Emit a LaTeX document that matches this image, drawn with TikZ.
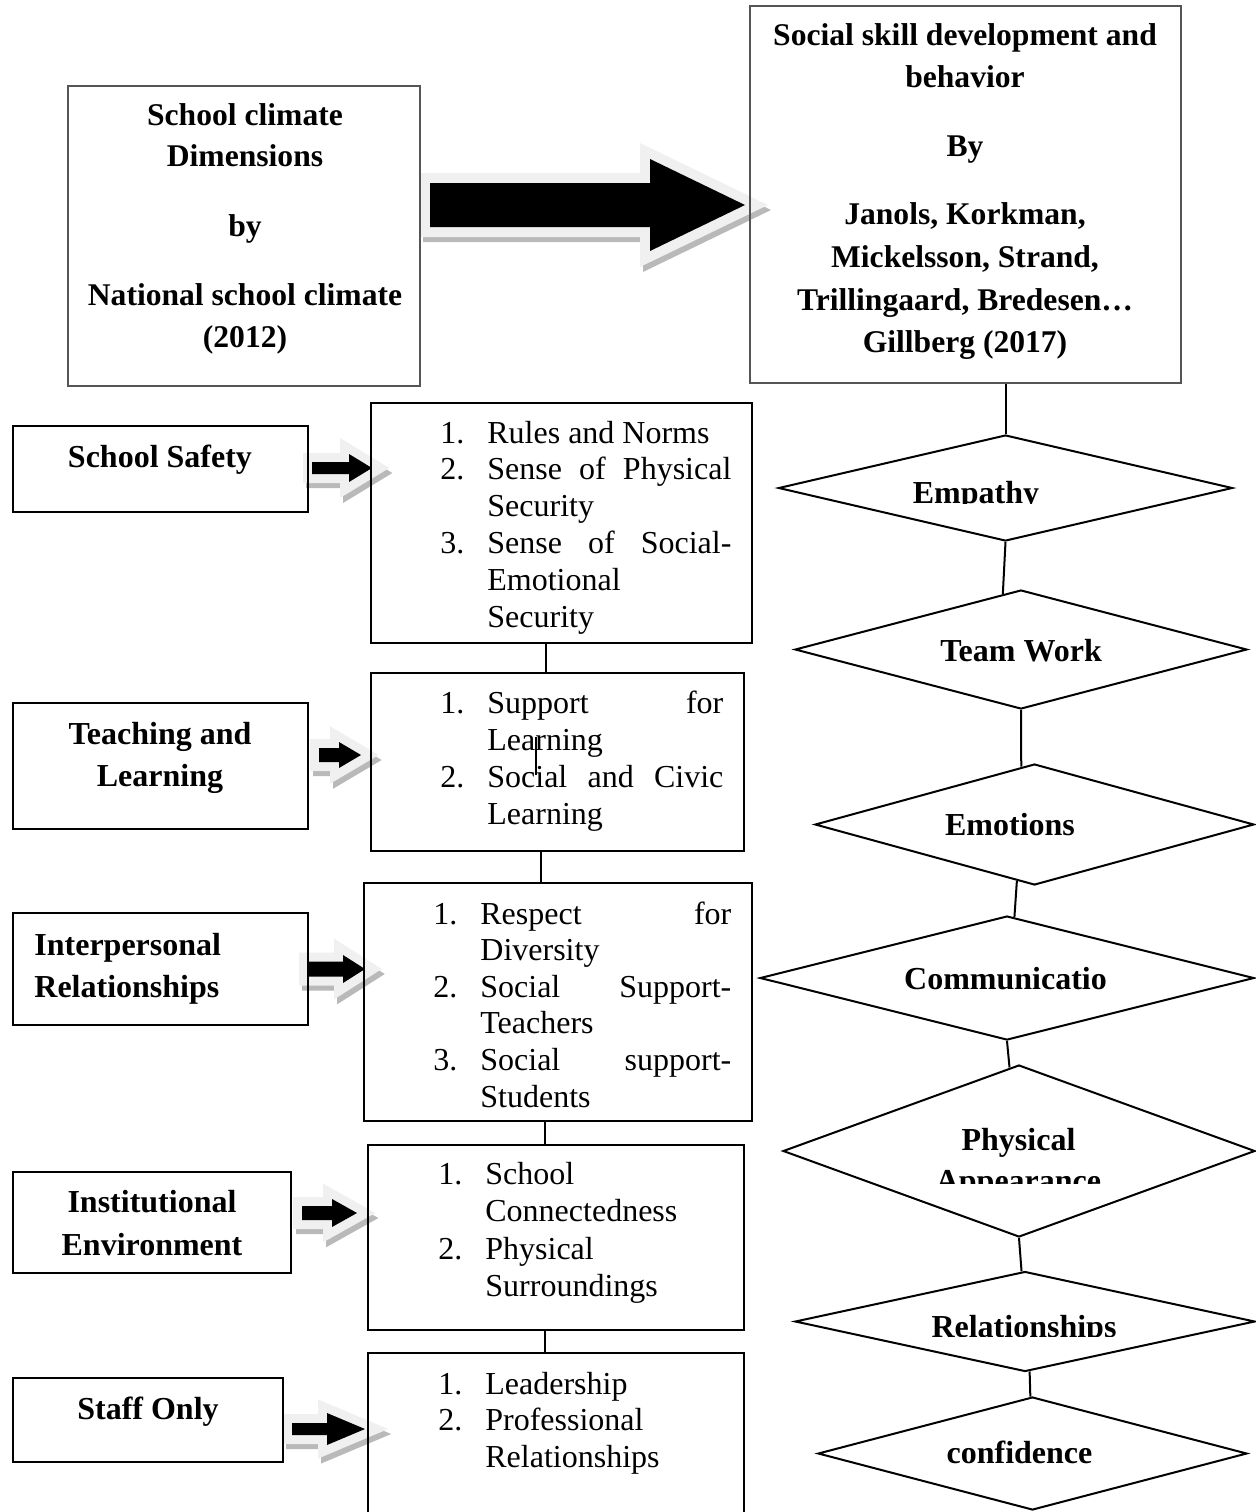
\documentclass[tikz,border=0pt]{standalone}
\usepackage{fontspec}
\setmainfont{Liberation Serif}
\usetikzlibrary{shapes.geometric,calc,fit}

\definecolor{outlinegray}{RGB}{240,240,240}
\definecolor{shadowgray}{RGB}{185,185,185}
\definecolor{framegray}{RGB}{85,85,85}

% one centred line of zero width
\newcommand{\cl}[1]{\hbox to 0pt{\hss#1\hss}}
% stacked lines with a fixed baseline distance
\newcommand{\lineset}[2]{\vtop{\baselineskip=#1\relax\lineskip=0pt\relax\lineskiplimit=-\maxdimen\relax#2}}
% numbered list line: number column, then the item text
\newcommand{\itm}[2]{\hbox{\hbox to 23.5pt{#1\hss}#2}}
% justified line of a given width
\newcommand{\spread}[2]{\hbox to #1{#2}}

% block arrow: x0, y0 (left end, centre line), shaft length, shaft half height,
% head length, head half height, outline width
\newcommand{\blockarrow}[7]{%
  \begin{scope}[shift={(#1,#2)}, line join=miter]
    \begin{scope}[shift={(3,5)}]
      \filldraw[shadowgray, line width=#7] (0,-#4) -- (#3,-#4) -- (#3,-#6) -- ({#3+#5},0) -- (#3,#6) -- (#3,#4) -- (0,#4) -- cycle;
    \end{scope}
    \filldraw[outlinegray, line width=#7] (0,-#4) -- (#3,-#4) -- (#3,-#6) -- ({#3+#5},0) -- (#3,#6) -- (#3,#4) -- (0,#4) -- cycle;
    \fill[black] (0,-#4) -- (#3,-#4) -- (#3,-#6) -- ({#3+#5},0) -- (#3,#6) -- (#3,#4) -- (0,#4) -- cycle;
  \end{scope}}

\begin{document}
\begin{tikzpicture}[x=0.5pt,y=-0.5pt,
  box/.style={draw=black, line width=1pt, inner sep=0pt},
  headbox/.style={draw=framegray, line width=1.3pt, inner sep=0pt},
  rhomb/.style={diamond, draw=black, line width=1pt, inner sep=0pt},
  link/.style={black, line width=1pt},
  plain/.style={inner sep=0pt, anchor=base, font=\fontsize{16}{18}\selectfont},
  heavy/.style={inner sep=0pt, anchor=base, font=\fontsize{16}{18}\selectfont\bfseries},
  title/.style={inner sep=0pt, anchor=base, font=\fontsize{15.8}{18}\selectfont\bfseries}]

\useasboundingbox[fill=white] (0,0) rectangle (1256,1512);

% ---- block arrows ----
\blockarrow{430}{205}{220}{22}{95}{46}{10pt}
\blockarrow{312}{468}{37}{6}{23}{14}{9pt}
\blockarrow{319}{755}{20}{7}{22}{13}{9pt}
\blockarrow{308}{969}{35}{7.5}{22}{14}{9pt}
\blockarrow{302}{1213}{30}{7}{25}{14}{9pt}
\blockarrow{292}{1429}{35}{6}{38}{16}{9pt}

% ---- heading boxes ----
\node[headbox, fit={(68,86) (420,386)}] (t1) {};
\node[headbox, fit={(750,6) (1181,383)}] (t2) {};
\node[title] (t1t) at (245,125) {\lineset{20.75pt}{\cl{School climate}\cl{Dimensions}\vskip14pt\cl{by}\vskip14pt\cl{National school climate}\cl{(2012)}}};
\node[title] (t2t) at (965,45) {\lineset{21.3pt}{\cl{Social skill development and}\cl{behavior}\vskip13pt\cl{By}\vskip13pt\cl{Janols, Korkman,}\cl{Mickelsson, Strand,}\cl{Trillingaard, Bredesen…}\cl{Gillberg (2017)}}};

% ---- dimension boxes ----
\node[box, fit={(13,426) (308,512)}] (b1) {};
\node[box, fit={(13,703) (308,829)}] (b2) {};
\node[box, fit={(13,913) (308,1025)}] (b3) {};
\node[box, fit={(13,1172) (291,1273)}] (b4) {};
\node[box, fit={(13,1378) (283,1462)}] (b5) {};
\node[heavy] (b1t) at (160,467) {School Safety};
\node[heavy] (b2t) at (160,744) {\lineset{21pt}{\cl{Teaching and}\cl{Learning}}};
\node[heavy, anchor=base west] (b3t) at (34,955) {\lineset{21pt}{\hbox{Interpersonal}\hbox{Relationships}}};
\node[heavy] (b4t) at (152,1212) {\lineset{21.5pt}{\cl{Institutional}\cl{Environment}}};
\node[heavy] (b5t) at (148,1419) {Staff Only};

% ---- item boxes ----
\node[box, fit={(371,403) (752,643)}] (m1) {};
\node[box, fit={(371,673) (744,851)}] (m2) {};
\node[box, fit={(364,883) (752,1121)}] (m3) {};
\node[box, fit={(368,1145) (744,1330)}] (m4) {};
\node[box, fit={(368,1353) (744,1516)}] (m5) {};

\node[plain, anchor=base west] (m1t) at (440,443) {\lineset{18.4pt}{%
  \itm{1.}{Rules and Norms}
  \itm{2.}{\spread{122pt}{Sense\hfill of\hfill Physical}}
  \itm{}{Security}
  \itm{3.}{\spread{122pt}{Sense\hfill of\hfill Social-}}
  \itm{}{Emotional}
  \itm{}{Security}}};
\node[plain, anchor=base west] (m2t) at (440,713) {\lineset{18.5pt}{%
  \itm{1.}{\spread{118pt}{Support\hfill for}}
  \itm{}{Learning}
  \itm{2.}{\spread{118pt}{Social\hfill and\hfill Civic}}
  \itm{}{Learning}}};
\node[plain, anchor=base west] (m3t) at (433,924) {\lineset{18.3pt}{%
  \itm{1.}{\spread{125.5pt}{Respect\hfill for}}
  \itm{}{Diversity}
  \itm{2.}{\spread{125.5pt}{Social\hfill Support-}}
  \itm{}{Teachers}
  \itm{3.}{\spread{125.5pt}{Social\hfill support-}}
  \itm{}{Students}}};
\node[plain, anchor=base west] (m4t) at (438,1184) {\lineset{18.83pt}{%
  \itm{1.}{School}
  \itm{}{Connectedness}
  \itm{2.}{Physical}
  \itm{}{Surroundings}}};
\node[plain, anchor=base west] (m5t) at (438,1394) {\lineset{18.25pt}{%
  \itm{1.}{Leadership}
  \itm{2.}{Professional}
  \itm{}{Relationships}}};

% stray vertical stroke inside the second item box
\draw[link] (536,737) -- (536,775);

% links between item boxes
\draw[link] (m1.south -| 546,0) -- (m2.north -| 546,0);
\draw[link] (m2.south -| 541,0) -- (m3.north -| 541,0);
\draw[link] (m3.south -| 545,0) -- (m4.north -| 545,0);
\draw[link] (m4.south -| 545,0) -- (m5.north -| 545,0);

% ---- skill diamonds ----
\node[rhomb, minimum width=227pt, minimum height=53pt] (d1) at (1005.5,488) {};
\node[rhomb, minimum width=226pt, minimum height=59.5pt] (d2) at (1021,649.5) {};
\node[rhomb, minimum width=219.5pt, minimum height=60.5pt] (d3) at (1034.5,824.5) {};
\node[rhomb, minimum width=247pt, minimum height=62pt] (d4) at (1007,978) {};
\node[rhomb, minimum width=236pt, minimum height=86pt] (d5) at (1019,1151) {};
\node[rhomb, minimum width=230pt, minimum height=50pt] (d6) at (1025,1321.5) {};
\node[rhomb, minimum width=214.5pt, minimum height=56.5pt] (d7) at (1032.5,1453.5) {};

\begin{scope}
  \clip (760,420) rectangle (1256,503.5);
  \node[heavy] (l1) at (976,503) {Empathy};
\end{scope}
\node[heavy] (l2) at (1021,661) {Team Work};
\node[heavy] (l3) at (1010,835) {Emotions};
\node[heavy] (l4) at (1005.5,989) {Communicatio};
\begin{scope}
  \clip (760,1070) rectangle (1256,1183);
  \node[heavy] (l5) at (1018.5,1150) {\lineset{20.5pt}{\cl{Physical}\cl{Appearance}}};
\end{scope}
\begin{scope}
  \clip (760,1280) rectangle (1256,1336);
  \node[heavy] (l6) at (1024,1337) {Relationships};
\end{scope}
\node[heavy] (l7) at (1019.5,1463) {confidence};

% links down the diamond column
\draw[link] (d1.north |- t2.south) -- (d1.north);
\draw[link] (d1.south) -- ($(d2.north)!0.08!(d2.west)$);
\draw[link] (d2.south) -- ($(d3.north)!0.06!(d3.west)$);
\draw[link] ($(d3.south)!0.08!(d3.west)$) -- ($(d4.north)!0.03!(d4.east)$);
\draw[link] (d4.south) -- ($(d5.north)!0.04!(d5.west)$);
\draw[link] (d5.south) -- ($(d6.north)!0.015!(d6.west)$);
\draw[link] ($(d6.south)!0.02!(d6.east)$) -- ($(d7.north)!0.01!(d7.west)$);
\end{tikzpicture}
\end{document}
